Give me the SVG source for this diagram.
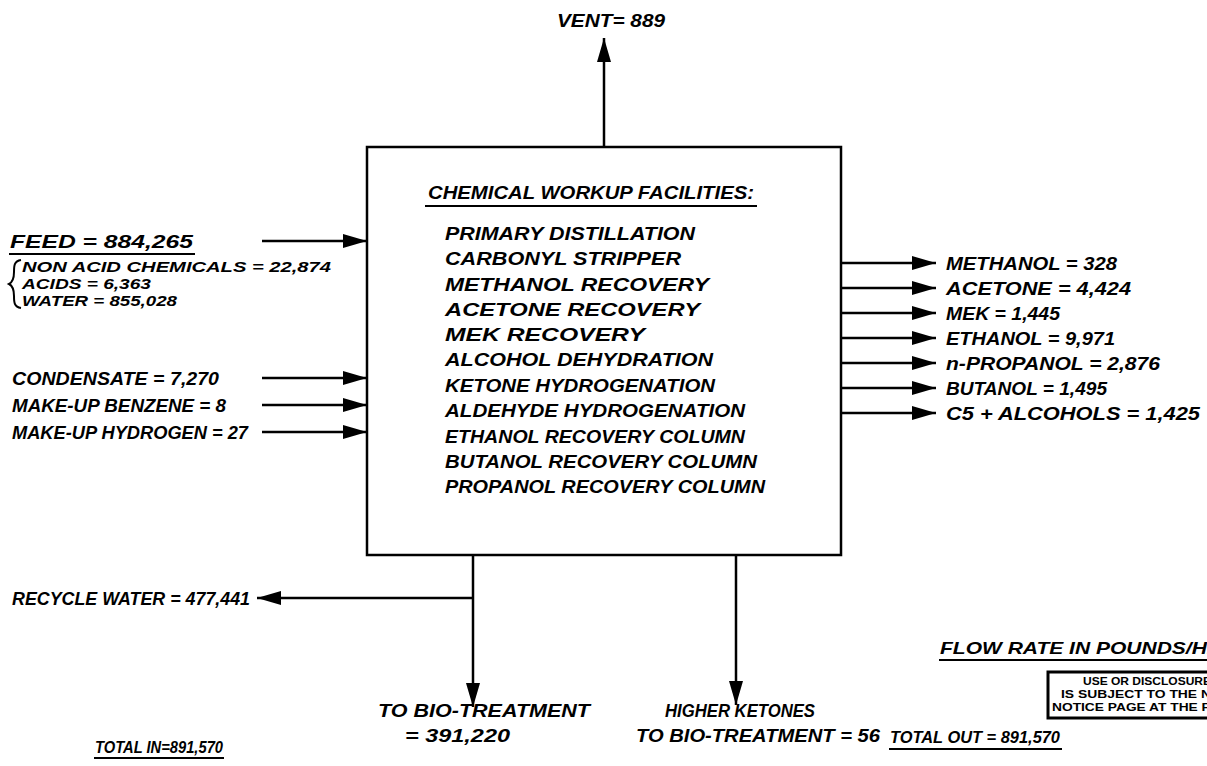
<svg xmlns="http://www.w3.org/2000/svg" width="1207" height="766" viewBox="0 0 1207 766">
<style>
text{font-family:"Liberation Sans",Arial,sans-serif;font-style:italic;font-weight:bold;fill:#000;}
.lbl{font-size:18px;}
.sub{font-size:15px;}
.box-t{font-size:19px;}
.ln{stroke:#000;stroke-width:2.5;fill:none;}
.ul{stroke:#000;stroke-width:2;}
.note{font-family:"Liberation Sans Narrow","Liberation Sans",sans-serif;font-style:normal;font-weight:bold;font-size:10px;}
</style>
<defs>
<marker id="ah" markerUnits="userSpaceOnUse" markerWidth="26" markerHeight="14" refX="24" refY="7" orient="auto">
<path d="M0,0 L24,7 L0,14 Z" fill="#000"/>
</marker>
</defs>

<g id="process-box">
<rect x="367" y="147" width="474" height="408" fill="none" stroke="#000" stroke-width="2.5"/>
<text class="box-t" x="428" y="199" textLength="326" lengthAdjust="spacingAndGlyphs">CHEMICAL WORKUP FACILITIES:</text>
<line class="ul" x1="425" y1="206" x2="757" y2="206"/>
<text class="box-t" x="445" y="240" textLength="250" lengthAdjust="spacingAndGlyphs">PRIMARY DISTILLATION</text>
<text class="box-t" x="445" y="265" textLength="236" lengthAdjust="spacingAndGlyphs">CARBONYL STRIPPER</text>
<text class="box-t" x="445" y="291" textLength="264" lengthAdjust="spacingAndGlyphs">METHANOL RECOVERY</text>
<text class="box-t" x="445" y="316" textLength="255" lengthAdjust="spacingAndGlyphs">ACETONE RECOVERY</text>
<text class="box-t" x="445" y="341" textLength="200" lengthAdjust="spacingAndGlyphs">MEK RECOVERY</text>
<text class="box-t" x="445" y="366" textLength="268" lengthAdjust="spacingAndGlyphs">ALCOHOL DEHYDRATION</text>
<text class="box-t" x="445" y="392" textLength="270" lengthAdjust="spacingAndGlyphs">KETONE HYDROGENATION</text>
<text class="box-t" x="445" y="417" textLength="300" lengthAdjust="spacingAndGlyphs">ALDEHYDE HYDROGENATION</text>
<text class="box-t" x="445" y="443" textLength="300" lengthAdjust="spacingAndGlyphs">ETHANOL RECOVERY COLUMN</text>
<text class="box-t" x="445" y="468" textLength="312" lengthAdjust="spacingAndGlyphs">BUTANOL RECOVERY COLUMN</text>
<text class="box-t" x="445" y="493" textLength="320" lengthAdjust="spacingAndGlyphs">PROPANOL RECOVERY COLUMN</text>
</g>

<g id="connectors">
<line class="ln" x1="604" y1="147" x2="604" y2="38" marker-end="url(#ah)"/>
<line class="ln" x1="262" y1="241" x2="367" y2="241" marker-end="url(#ah)"/>
<line class="ln" x1="262" y1="378" x2="367" y2="378" marker-end="url(#ah)"/>
<line class="ln" x1="262" y1="405" x2="367" y2="405" marker-end="url(#ah)"/>
<line class="ln" x1="262" y1="432" x2="367" y2="432" marker-end="url(#ah)"/>
<line class="ln" x1="841" y1="263" x2="936" y2="263" marker-end="url(#ah)"/>
<line class="ln" x1="841" y1="288" x2="936" y2="288" marker-end="url(#ah)"/>
<line class="ln" x1="841" y1="313" x2="936" y2="313" marker-end="url(#ah)"/>
<line class="ln" x1="841" y1="338" x2="936" y2="338" marker-end="url(#ah)"/>
<line class="ln" x1="841" y1="363" x2="936" y2="363" marker-end="url(#ah)"/>
<line class="ln" x1="841" y1="388" x2="936" y2="388" marker-end="url(#ah)"/>
<line class="ln" x1="841" y1="413" x2="936" y2="413" marker-end="url(#ah)"/>
<line class="ln" x1="473" y1="555" x2="473" y2="707" marker-end="url(#ah)"/>
<line class="ln" x1="473" y1="598" x2="257" y2="598" marker-end="url(#ah)"/>
<line class="ln" x1="736" y1="555" x2="736" y2="705" marker-end="url(#ah)"/>
</g>

<g id="vent">
<text class="lbl" x="557" y="27" textLength="108" lengthAdjust="spacingAndGlyphs">VENT= 889</text>
</g>

<g id="feed">
<text class="lbl" x="10" y="248" textLength="183" lengthAdjust="spacingAndGlyphs">FEED = 884,265</text>
<line class="ul" x1="9" y1="254" x2="195" y2="254"/>
<path d="M21,260 C14,261 14,266 14,272 C14,278 13,282 9,284 C13,286 14,290 14,296 C14,302 14,307 21,308" fill="none" stroke="#000" stroke-width="2"/>
<text class="sub" x="22" y="272" textLength="309" lengthAdjust="spacingAndGlyphs">NON ACID CHEMICALS = 22,874</text>
<text class="sub" x="22" y="289" textLength="129" lengthAdjust="spacingAndGlyphs">ACIDS = 6,363</text>
<text class="sub" x="22" y="306" textLength="155" lengthAdjust="spacingAndGlyphs">WATER = 855,028</text>
</g>

<g id="condensate"><text class="lbl" x="12" y="385" textLength="207" lengthAdjust="spacingAndGlyphs">CONDENSATE = 7,270</text></g>
<g id="benzene"><text class="lbl" x="12" y="412" textLength="214" lengthAdjust="spacingAndGlyphs">MAKE-UP BENZENE = 8</text></g>
<g id="hydrogen"><text class="lbl" x="12" y="439" textLength="236" lengthAdjust="spacingAndGlyphs">MAKE-UP HYDROGEN = 27</text></g>

<g id="products">
<text class="lbl" x="946" y="270" textLength="171" lengthAdjust="spacingAndGlyphs">METHANOL = 328</text>
<text class="lbl" x="946" y="295" textLength="185" lengthAdjust="spacingAndGlyphs">ACETONE = 4,424</text>
<text class="lbl" x="946" y="320" textLength="114" lengthAdjust="spacingAndGlyphs">MEK = 1,445</text>
<text class="lbl" x="946" y="345" textLength="169" lengthAdjust="spacingAndGlyphs">ETHANOL = 9,971</text>
<text class="lbl" x="946" y="370" textLength="214" lengthAdjust="spacingAndGlyphs">n-PROPANOL = 2,876</text>
<text class="lbl" x="946" y="395" textLength="161" lengthAdjust="spacingAndGlyphs">BUTANOL = 1,495</text>
<text class="lbl" x="946" y="420" textLength="254" lengthAdjust="spacingAndGlyphs">C5 + ALCOHOLS = 1,425</text>
</g>

<g id="recycle"><text class="lbl" x="12" y="605" textLength="238" lengthAdjust="spacingAndGlyphs">RECYCLE WATER = 477,441</text></g>

<g id="bio-treatment">
<text class="lbl" x="378" y="717" textLength="212" lengthAdjust="spacingAndGlyphs">TO BIO-TREATMENT</text>
<text class="lbl" x="405" y="742" textLength="105" lengthAdjust="spacingAndGlyphs">= 391,220</text>
</g>

<g id="higher-ketones">
<text class="lbl" x="665" y="717" textLength="150" lengthAdjust="spacingAndGlyphs">HIGHER KETONES</text>
<text class="lbl" x="636" y="742" textLength="244" lengthAdjust="spacingAndGlyphs">TO BIO-TREATMENT = 56</text>
</g>

<g id="totals">
<text class="lbl" x="95" y="753" textLength="128" lengthAdjust="spacingAndGlyphs" style="font-size:16px">TOTAL IN=891,570</text>
<line class="ul" x1="94" y1="758" x2="224" y2="758"/>
<text class="lbl" x="890" y="743" textLength="170" lengthAdjust="spacingAndGlyphs" style="font-size:17px">TOTAL OUT = 891,570</text>
<line class="ul" x1="889" y1="749" x2="1062" y2="749"/>
<text class="lbl" x="940" y="654" textLength="282" lengthAdjust="spacingAndGlyphs" style="font-size:17px">FLOW RATE IN POUNDS/HR</text>
<line class="ul" x1="939" y1="660" x2="1207" y2="660"/>
</g>

<g id="notice">
<rect x="1048" y="672" width="200" height="46" fill="none" stroke="#000" stroke-width="3"/>
<text class="note" x="1083" y="685" textLength="128" lengthAdjust="spacingAndGlyphs">USE OR DISCLOSURE</text>
<text class="note" x="1061" y="698" textLength="150" lengthAdjust="spacingAndGlyphs">IS SUBJECT TO THE N</text>
<text class="note" x="1052" y="711" textLength="158" lengthAdjust="spacingAndGlyphs">NOTICE PAGE AT THE F</text>
</g>
</svg>
